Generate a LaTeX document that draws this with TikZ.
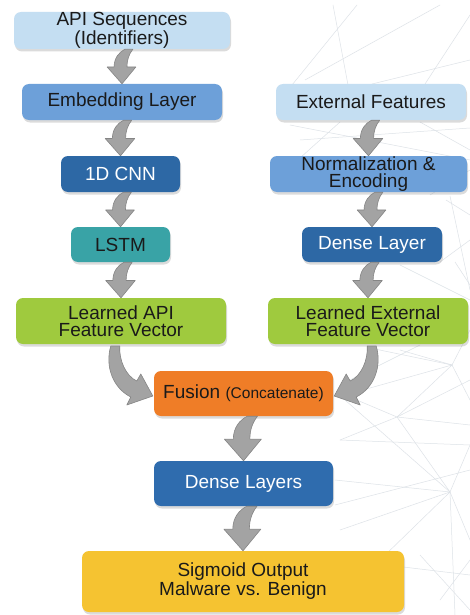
\documentclass[tikz,border=0pt]{standalone}
\usepackage{fontspec}
\setmainfont{Liberation Sans}
\usetikzlibrary{calc,shadows}
\definecolor{lblue}{HTML}{C4DEF2}
\definecolor{mblue}{HTML}{6DA0D9}
\definecolor{dblue}{HTML}{2D68A5}
\definecolor{dblueb}{HTML}{2F6CAE}
\definecolor{teal2}{HTML}{39A3A6}
\definecolor{green2}{HTML}{9FCA3E}
\definecolor{orange2}{HTML}{EF7D27}
\definecolor{yellow2}{HTML}{F5C331}
\definecolor{txt}{HTML}{1A1A1A}
\definecolor{arrgray}{HTML}{A3A3A3}
\definecolor{arrline}{HTML}{858585}
\definecolor{bgl}{HTML}{DDE2E7}
\tikzset{
 box/.style={rounded corners=7pt, align=center, inner sep=0pt, text=txt,
   font=\fontsize{19}{17.5}\selectfont,
   drop shadow={opacity=0.28, shadow xshift=1pt, shadow yshift=-2.5pt}},
 wtext/.style={text=white},
 arrowfill/.style={fill=arrgray, draw=arrline, line width=0.6pt, line join=round},
 bgline/.style={draw=bgl, line width=0.5pt},
}
\newcommand\varrow[2]{%
 \path[arrowfill] let \p1=(#1.south), \p2=(#2.north), \n1={(\y1-\y2)/35} in
  (\x2,\y2) -- (\x2-15*\n1,\y2+17*\n1) -- (\x2-8*\n1,\y2+17*\n1)
  .. controls (\x2-8*\n1,\y2+26*\n1) and (\x2-3*\n1,\y2+32*\n1) .. (\x2+3*\n1,\y2+35*\n1)
  -- (\x2+11*\n1,\y2+35*\n1)
  .. controls (\x2+7*\n1,\y2+30*\n1) and (\x2+5*\n1,\y2+24*\n1) .. (\x2+5*\n1,\y2+17*\n1)
  -- (\x2+14*\n1,\y2+17*\n1) -- cycle;}
\newcommand\fusionarrow{%
  (0,0) -- (12,22) -- (16,15) .. controls (27,20) and (34,36) .. (33,50)
  -- (42,50) .. controls (48,30) and (40,8) .. (22,-1) -- (26,-9) -- cycle}
\begin{document}
\begin{tikzpicture}[x=1pt,y=1pt]
\useasboundingbox (0,0) rectangle (470,-615);
\fill[white] (0,0) rectangle (470,-615);
% faint background network
\foreach \xa/\ya/\xb/\yb in {
 333/5/348/85, 357/5/292/85, 440/5/305/80, 470/60/372/84, 470/15/425/84,
 290/125/470/160, 340/122/300/158, 420/122/470/150, 300/140/470/128,
 430/195/470/170, 450/196/470/290, 440/262/470/240, 446/200/470/215,
 400/265/470/300, 455/262/470/285,
 452/365/370/348, 452/365/345/395, 452/365/470/330, 452/365/470/400, 452/365/400/350, 452/365/397/417,
 397/417/345/395, 397/417/470/380, 397/417/340/440, 397/417/450/492, 397/417/470/425,
 450/492/335/480, 450/492/345/400, 450/492/470/445, 450/492/380/560, 450/492/455/615,
 450/492/340/530, 450/492/470/540, 340/440/470/445, 335/505/470/470,
 345/560/470/575, 420/555/470/610, 440/600/470/560, 350/380/420/345}
 \draw[bgline] (\xa,-\ya) -- (\xb,-\yb);
% left column
\node[box, fill=lblue, minimum width=216pt, minimum height=37pt] (api) at (122,-30.5) {API Sequences\\(Identifiers)};
\node[box, fill=mblue, minimum width=200pt, minimum height=36pt] (emb) at (122,-102) {Embedding Layer};
\node[box, fill=dblue, wtext, minimum width=119pt, minimum height=36pt] (cnn) at (120.5,-174) {1D CNN};
\node[box, fill=teal2, minimum width=99pt, minimum height=35pt] (lstm) at (120.5,-244.5) {LSTM};
\node[box, fill=green2, minimum width=210pt, minimum height=46pt] (lapi) at (121,-321) {Learned API\\Feature Vector};
% right column
\node[box, fill=lblue, minimum width=190pt, minimum height=36pt] (ext) at (371,-102) {External Features};
\node[box, fill=mblue, minimum width=197pt, minimum height=36pt] (norm) at (368.5,-174) {Normalization \&\\Encoding};
\node[box, fill=dblue, wtext, minimum width=140pt, minimum height=35pt] (dl) at (372,-244.5) {Dense Layer};
\node[box, fill=green2, minimum width=200pt, minimum height=46pt] (lext) at (368,-321) {Learned External\\Feature Vector};
% bottom
\node[box, fill=orange2, minimum width=179pt, minimum height=45pt] (fus) at (243.5,-393.5) {Fusion {\fontsize{15.5}{16}\selectfont(Concatenate)}};
\node[box, fill=dblueb, wtext, minimum width=179pt, minimum height=45pt] (dls) at (243.5,-483.5) {Dense Layers};
\node[box, fill=yellow2, minimum width=322pt, minimum height=61pt, font=\fontsize{19}{19}\selectfont] (sig) at (243,-581.5) {Sigmoid Output\\Malware vs. Benign};
% arrows
\varrow{api}{emb}
\varrow{emb}{cnn}
\varrow{cnn}{lstm}
\varrow{lstm}{lapi}
\varrow{ext}{norm}
\varrow{norm}{dl}
\varrow{dl}{lext}
\varrow{fus}{dls}
\varrow{dls}{sig}
\begin{scope}[shift={($(fus.west)+(-1,-2.5)$)}, xscale=-1]
 \path[arrowfill] \fusionarrow;
\end{scope}
\begin{scope}[shift={($(fus.east)+(1,-2.5)$)}]
 \path[arrowfill] \fusionarrow;
\end{scope}
\end{tikzpicture}
\end{document}
